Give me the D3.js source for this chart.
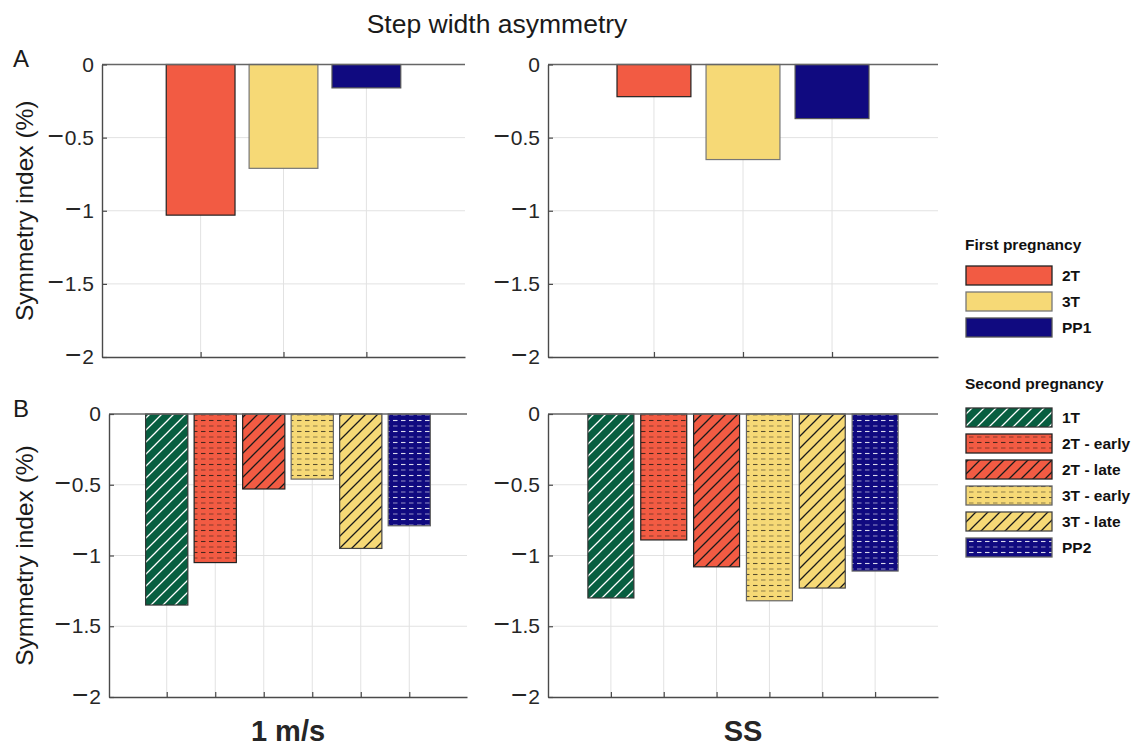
<!DOCTYPE html>
<html>
<head>
<meta charset="utf-8">
<script src="https://cdn.jsdelivr.net/npm/d3@7"></script>
<style>
  html, body { margin: 0; padding: 0; background: #ffffff; }
  svg { display: block; }
</style>
</head>
<body>
<svg id="chart" width="1137" height="750"></svg>
<script>
// ---------------- DATA ----------------
const conditions = ["1 m/s", "SS"];
const firstLabels = ["2T", "3T", "PP1"];
const first1ms = [-1.03, -0.71, -0.16];
const firstSS = [-0.22, -0.65, -0.37];
const secondLabels = ["1T", "2T - early", "2T - late", "3T - early", "3T - late", "PP2"];
const second1ms = [-1.35, -1.05, -0.53, -0.46, -0.95, -0.79];
const secondSS = [-1.30, -0.89, -1.08, -1.32, -1.23, -1.11];
const yTicks = [0, -0.5, -1, -1.5, -2];
const yDomain = [-2, 0];
const panelLetters = ["A", "B"];
const titleText = "Step width asymmetry";
const yLabelText = "Symmetry index (%)";
const legendTitles = ["First pregnancy", "Second pregnancy"];

// ---------------- STYLES ----------------
const RED = "#F25B43", YEL = "#F6D976", NAVY = "#100A80", GREEN = "#075E40";
const firstStyles = [
  {fill: RED, kind: "solid", stroke: "#222"},
  {fill: YEL, kind: "solid", stroke: "#777"},
  {fill: NAVY, kind: "solid", stroke: "#555"}
];
const secondStyles = [
  {fill: GREEN, kind: "hatch", ink: "#ffffff", stroke: "#333"},
  {fill: RED, kind: "dash", ink: "#2a1a15", stroke: "#222"},
  {fill: RED, kind: "hatch", ink: "#1a1a1a", stroke: "#222"},
  {fill: YEL, kind: "dash", ink: "#3a3320", stroke: "#666"},
  {fill: YEL, kind: "hatch", ink: "#1a1a1a", stroke: "#444"},
  {fill: NAVY, kind: "dash", ink: "#ffffff", stroke: "#666"}
];

const FONT = "'Liberation Sans', Arial, Helvetica, sans-serif";
const svg = d3.select("#chart");
const defs = svg.append("defs");

function patternId(st, i) {
  if (st.kind === "solid") return null;
  const id = "pat" + st.kind + i;
  if (st.kind === "hatch") {
    const p = defs.append("pattern").attr("id", id).attr("patternUnits", "userSpaceOnUse")
      .attr("width", 12).attr("height", 12);
    p.append("rect").attr("width", 12).attr("height", 12).attr("fill", st.fill);
    p.append("path").attr("d", "M-3,3 L3,-3 M0,12 L12,0 M9,15 L15,9")
      .attr("stroke", st.ink).attr("stroke-width", 1.3).attr("fill", "none");
  } else {
    const p = defs.append("pattern").attr("id", id).attr("patternUnits", "userSpaceOnUse")
      .attr("width", 8).attr("height", 11);
    p.append("rect").attr("width", 8).attr("height", 11).attr("fill", st.fill);
    p.append("line").attr("x1", 1).attr("x2", 5.5).attr("y1", 2.5).attr("y2", 2.5)
      .attr("stroke", st.ink).attr("stroke-width", 1.1).attr("opacity", 0.85);
    p.append("line").attr("x1", 1).attr("x2", 5.5).attr("y1", 8).attr("y2", 8)
      .attr("stroke", st.ink).attr("stroke-width", 1.1).attr("opacity", 0.5);
  }
  return id;
}
const firstPat = firstStyles.map((s, i) => patternId(s, "f" + i));
const secondPat = secondStyles.map((s, i) => patternId(s, "s" + i));
function fillOf(st, pid) { return pid ? `url(#${pid})` : st.fill; }

// ---------------- PANELS ----------------
const panels = [
  {x0: 102, x1: 465, y0: 64.5, y1: 357, values: first1ms, styles: firstStyles, pats: firstPat, bw: 0.83},
  {x0: 548, x1: 938, y0: 64.5, y1: 357, values: firstSS, styles: firstStyles, pats: firstPat, bw: 0.83},
  {x0: 109, x1: 467, y0: 414, y1: 697, values: second1ms, styles: secondStyles, pats: secondPat, bw: 0.87},
  {x0: 548, x1: 938, y0: 414, y1: 697, values: secondSS, styles: secondStyles, pats: secondPat, bw: 0.87}
];

const numFmt = d3.format("~g");

panels.forEach(p => {
  const n = p.values.length;
  const x = d3.scaleLinear().domain([-0.19, n + 1.19]).range([p.x0, p.x1]);
  const y = d3.scaleLinear().domain(yDomain).range([p.y1, p.y0]);
  const g = svg.append("g");
  const idx = d3.range(1, n + 1);

  // grid
  g.selectAll(".hg").data(yTicks.filter(t => t !== 0 && t !== -2)).join("line")
    .attr("x1", p.x0).attr("x2", p.x1).attr("y1", d => y(d)).attr("y2", d => y(d))
    .attr("stroke", "#e2e2e2").attr("stroke-width", 1);
  g.selectAll(".vg").data(idx).join("line")
    .attr("x1", d => x(d)).attr("x2", d => x(d)).attr("y1", p.y0).attr("y2", p.y1)
    .attr("stroke", "#e2e2e2").attr("stroke-width", 1);

  // bars
  g.selectAll(".bar").data(p.values).join("rect")
    .attr("x", (d, i) => x(i + 1 - p.bw / 2))
    .attr("width", (d, i) => x(i + 1 + p.bw / 2) - x(i + 1 - p.bw / 2))
    .attr("y", y(0))
    .attr("height", d => y(d) - y(0))
    .attr("fill", (d, i) => fillOf(p.styles[i], p.pats[i]))
    .attr("stroke", (d, i) => p.styles[i].stroke)
    .attr("stroke-width", 1.2);

  // top line at zero
  g.append("line").attr("x1", p.x0).attr("x2", p.x1).attr("y1", y(0)).attr("y2", y(0))
    .attr("stroke", "#666").attr("stroke-width", 1.4);

  // y axis
  const ya = g.append("g").attr("transform", `translate(${p.x0},0)`)
    .call(d3.axisLeft(y).tickValues(yTicks).tickSize(-5).tickSizeOuter(0)
      .tickPadding(8).tickFormat(numFmt));
  ya.select(".domain").attr("stroke", "#4a4a4a").attr("stroke-width", 1.4);
  ya.selectAll(".tick line").attr("stroke", "#4a4a4a").attr("stroke-width", 1.2);
  ya.selectAll(".tick text").attr("font-family", FONT).attr("font-size", 21).attr("fill", "#262626")
    .each(function(d) {
      const t = d3.select(this);
      const s = numFmt(Math.abs(d));
      t.text(null);
      if (d < 0) {
        t.append("tspan").attr("font-size", 28).text("\u2212");
        t.append("tspan").attr("dx", 1).text(s);
      } else {
        t.append("tspan").text(s);
      }
    });

  // x axis
  const xa = g.append("g").attr("transform", `translate(0,${p.y1})`)
    .call(d3.axisBottom(x).tickValues(idx).tickSize(-5).tickSizeOuter(0).tickFormat(""));
  xa.select(".domain").attr("stroke", "#4a4a4a").attr("stroke-width", 1.4);
  xa.selectAll(".tick line").attr("stroke", "#4a4a4a").attr("stroke-width", 1.2);
});

// ---------------- TEXTS ----------------
svg.append("text").attr("x", 497).attr("y", 33).attr("text-anchor", "middle")
  .attr("font-family", FONT).attr("font-size", 26.5).attr("fill", "#1a1a1a").text(titleText);

[[panels[0], 67], [panels[2], 417]].forEach(([p, by], i) => {
  svg.append("text").attr("x", 13).attr("y", by).attr("font-family", FONT)
    .attr("font-size", 24).attr("fill", "#1a1a1a").text(panelLetters[i]);
  const cy = (p.y0 + p.y1) / 2;
  svg.append("text").attr("transform", `translate(33,${cy}) rotate(-90)`)
    .attr("text-anchor", "middle").attr("font-family", FONT).attr("font-size", 24.5)
    .attr("fill", "#1a1a1a").text(yLabelText);
});

[panels[2], panels[3]].forEach((p, i) => {
  svg.append("text").attr("x", (p.x0 + p.x1) / 2).attr("y", 741).attr("text-anchor", "middle")
    .attr("font-family", FONT).attr("font-weight", "bold").attr("font-size", 29)
    .attr("fill", "#262626").text(conditions[i]);
});

// ---------------- LEGENDS ----------------
function legend(title, titleY, boxY0, labels, styles, pats) {
  const g = svg.append("g");
  g.append("text").attr("x", 965).attr("y", titleY).attr("font-family", FONT)
    .attr("font-weight", "bold").attr("font-size", 15.5).attr("fill", "#111").text(title);
  labels.forEach((lab, i) => {
    const yy = boxY0 + i * 26;
    g.append("rect").attr("x", 966).attr("y", yy).attr("width", 86).attr("height", 19)
      .attr("fill", fillOf(styles[i], pats[i])).attr("stroke", styles[i].stroke).attr("stroke-width", 1.3);
    g.append("text").attr("x", 1062).attr("y", yy + 15).attr("font-family", FONT)
      .attr("font-weight", "bold").attr("font-size", 15.5).attr("fill", "#111").text(lab);
  });
}
legend(legendTitles[0], 250, 266, firstLabels, firstStyles, firstPat);
legend(legendTitles[1], 389, 408, secondLabels, secondStyles, secondPat);
</script>
</body>
</html>
